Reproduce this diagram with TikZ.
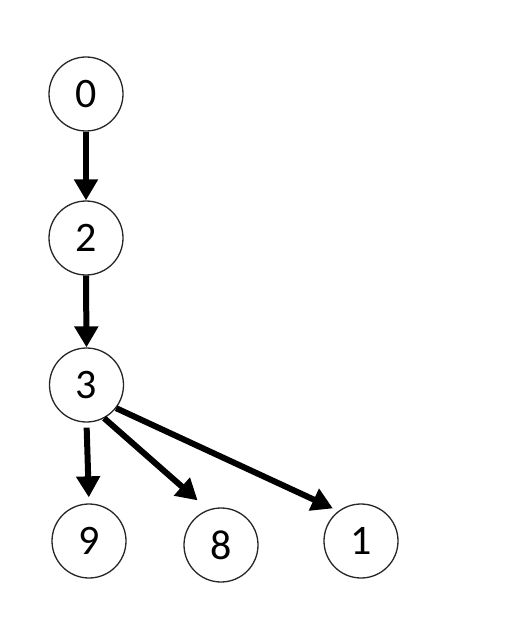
\documentclass[tikz,border=0pt]{standalone}
\usepackage{fontspec}
\setmainfont{Carlito}
\usetikzlibrary{arrows.meta}
\begin{document}
\begin{tikzpicture}[x=1pt,y=-1pt,
  vnode/.style={circle,draw=black!85,line width=1.3pt,minimum size=74pt,inner sep=0pt,font=\fontsize{42}{50}\selectfont},
  edge/.style={line width=6pt,-{Triangle[width=23pt,length=21pt]}}]
\useasboundingbox (0,0) rectangle (528,639);
\node[vnode] (n0) at (86,94) {0};
\node[vnode] (n2) at (86,238) {2};
\node[vnode] (n3) at (86.5,385) {3};
\node[vnode] (n9) at (89,541) {9};
\node[vnode] (n8) at (221,545) {8};
\node[vnode] (n1) at (361,541) {1};
\draw[edge] (n0.south) -- (n2.north);
\draw[edge] (n2.south) -- (n3.north);
\draw[edge,shorten <=5pt,shorten >=6pt] (n3.south) -- (n9.north);
\draw[edge,shorten >=14pt] (n3.-62) -- (n8.110);
\draw[edge,shorten >=6pt] (n3.-38) -- (n1.127);
\end{tikzpicture}
\end{document}
